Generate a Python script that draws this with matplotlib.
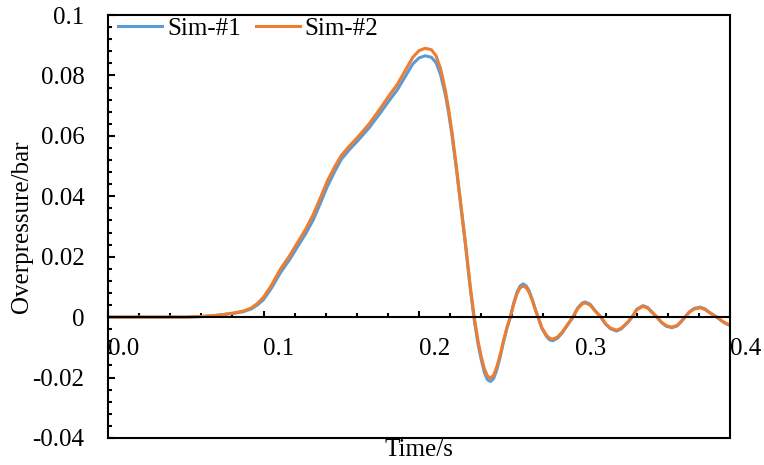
import matplotlib
matplotlib.use('Agg')
import matplotlib.pyplot as plt
from matplotlib.ticker import MultipleLocator, FixedLocator, FixedFormatter

# time values (s), shared by both series
t = [0.000, 0.020, 0.040, 0.050, 0.060, 0.070, 0.080, 0.087, 0.092, 0.096,
     0.100, 0.105, 0.111, 0.117, 0.122, 0.127, 0.132, 0.137, 0.141, 0.146,
     0.150, 0.155, 0.161, 0.168, 0.175, 0.181, 0.186, 0.191, 0.196, 0.200,
     0.204, 0.208, 0.211, 0.214, 0.217, 0.219, 0.221, 0.224, 0.227, 0.230,
     0.233, 0.2355, 0.238, 0.240, 0.242, 0.244, 0.246, 0.248, 0.250, 0.252,
     0.254, 0.2565, 0.2587, 0.261, 0.263, 0.265, 0.267, 0.269, 0.271, 0.273,
     0.275, 0.2766, 0.279, 0.282, 0.284, 0.286, 0.289, 0.292, 0.295, 0.299,
     0.302, 0.305, 0.307, 0.310, 0.313, 0.317, 0.320, 0.323, 0.327, 0.330,
     0.334, 0.337, 0.340, 0.344, 0.347, 0.350, 0.353, 0.356, 0.359, 0.3626,
     0.366, 0.369, 0.371, 0.374, 0.377, 0.381, 0.384, 0.387, 0.3916, 0.395,
     0.398, 0.400]

# Sim-#2 (orange)
p2 = [0.0000, 0.0000, 0.0000, 0.0000, 0.0002, 0.0006, 0.0013, 0.0020, 0.0030, 0.0045,
      0.0066, 0.0105, 0.0160, 0.0205, 0.0248, 0.0290, 0.0340, 0.0400, 0.0450, 0.0500,
      0.0535, 0.0565, 0.0598, 0.0640, 0.0690, 0.0735, 0.0770, 0.0815, 0.0860, 0.0882,
      0.0890, 0.0885, 0.0865, 0.0820, 0.0750, 0.0690, 0.0620, 0.0500, 0.0370, 0.0240,
      0.0100, 0.0000, -0.0080, -0.0130, -0.0170, -0.0195, -0.0202, -0.0192, -0.0165, -0.0128,
      -0.0085, -0.0035, 0.0000, 0.0045, 0.0077, 0.0097, 0.0103, 0.0097, 0.0080, 0.0053,
      0.0022, 0.0000, -0.0035, -0.0060, -0.0070, -0.0073, -0.0066, -0.0050, -0.0028, 0.0000,
      0.0028, 0.0044, 0.0047, 0.0040, 0.0022, 0.0000, -0.0022, -0.0036, -0.0043, -0.0037,
      -0.0018, 0.0000, 0.0024, 0.0036, 0.0030, 0.0015, 0.0000, -0.0017, -0.0028, -0.0033,
      -0.0027, -0.0012, 0.0000, 0.0017, 0.0027, 0.0031, 0.0025, 0.0014, 0.0000, -0.0013,
      -0.0022, -0.0026]

# Sim-#1 (blue)
p1 = [0.0000, 0.0000, 0.0000, 0.0000, 0.0002, 0.0006, 0.0012, 0.0018, 0.0027, 0.0040,
      0.0058, 0.0095, 0.0148, 0.0192, 0.0234, 0.0275, 0.0322, 0.0382, 0.0432, 0.0484,
      0.0522, 0.0553, 0.0586, 0.0627, 0.0675, 0.0718, 0.0752, 0.0795, 0.0838, 0.0858,
      0.0865, 0.0860, 0.0842, 0.0800, 0.0735, 0.0677, 0.0610, 0.0492, 0.0363, 0.0233,
      0.0093, -0.0008, -0.0090, -0.0140, -0.0182, -0.0207, -0.0213, -0.0203, -0.0175, -0.0136,
      -0.0090, -0.0038, 0.0000, 0.0048, 0.0082, 0.0103, 0.0110, 0.0103, 0.0085, 0.0056,
      0.0023, 0.0000, -0.0037, -0.0064, -0.0075, -0.0078, -0.0070, -0.0053, -0.0030, 0.0000,
      0.0030, 0.0047, 0.0050, 0.0043, 0.0023, 0.0000, -0.0023, -0.0038, -0.0046, -0.0039,
      -0.0019, 0.0000, 0.0026, 0.0038, 0.0032, 0.0016, 0.0000, -0.0018, -0.0030, -0.0035,
      -0.0029, -0.0013, 0.0000, 0.0018, 0.0029, 0.0033, 0.0027, 0.0015, 0.0000, -0.0014,
      -0.0023, -0.0028]

x_ticks = [0.0, 0.1, 0.2, 0.3, 0.4]
x_labels = ['0.0', '0.1', '0.2', '0.3', '0.4']
y_ticks = [-0.04, -0.02, 0, 0.02, 0.04, 0.06, 0.08, 0.1]
y_labels = ['-0.04', '-0.02', '0', '0.02', '0.04', '0.06', '0.08', '0.1']

plt.rcParams['font.family'] = ['Liberation Serif', 'DejaVu Serif']
plt.rcParams['font.size'] = 18
plt.rcParams['axes.unicode_minus'] = False

fig = plt.figure(figsize=(7.64, 4.65), dpi=100)
ax = fig.add_axes([108 / 764, 1 - 438 / 465, 622 / 764, 423 / 465])

ax.plot(t, p1, color='#5B9BD5', linewidth=2.2, label='Sim-#1')
ax.plot(t, p2, color='#ED7D31', linewidth=2.2, label='Sim-#2')

ax.set_xlim(0, 0.4)
ax.set_ylim(-0.04, 0.1)

# x axis crosses at zero, keep the box border at the bottom
ax.spines['bottom'].set_position(('data', 0))
for s in ax.spines.values():
    s.set_linewidth(1.5)
ax.plot([0, 1], [0, 0], transform=ax.transAxes, color='black', linewidth=1.5,
        clip_on=False)

ax.xaxis.set_major_locator(FixedLocator(x_ticks))
ax.xaxis.set_major_formatter(FixedFormatter(x_labels))
ax.xaxis.set_minor_locator(MultipleLocator(0.02))
ax.yaxis.set_major_locator(FixedLocator(y_ticks))
ax.yaxis.set_major_formatter(FixedFormatter(y_labels))
ax.yaxis.set_minor_locator(MultipleLocator(0.004))

ax.tick_params(axis='x', which='both', direction='in', pad=15, width=1.5)
ax.tick_params(axis='x', which='major', length=4)
ax.tick_params(axis='x', which='minor', length=3)
ax.tick_params(axis='y', which='both', direction='in', pad=17, width=1.5)
ax.tick_params(axis='y', which='major', length=5)
ax.tick_params(axis='y', which='minor', length=3)
for lbl in ax.get_xticklabels():
    lbl.set_horizontalalignment('left')

ax.set_xlabel('Time/s')
ax.xaxis.set_label_coords(0.5, -0.002)
ax.set_ylabel('Overpressure/bar')
ax.yaxis.set_label_coords(-0.12, 0.5)

ax.legend(loc='center left', bbox_to_anchor=(0.016, 0.968), ncol=2, frameon=False,
          borderpad=0, borderaxespad=0, handlelength=1.76, handletextpad=0.2,
          columnspacing=0.6)

fig.savefig('out.png', dpi=100, facecolor='white')
